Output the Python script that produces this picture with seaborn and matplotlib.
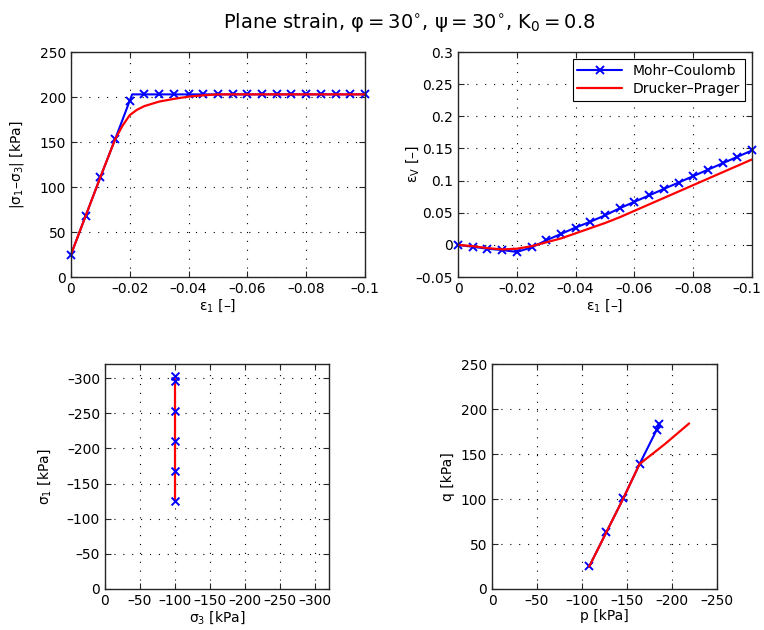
import matplotlib
matplotlib.use("Agg")
import matplotlib.pyplot as plt
import matplotlib.transforms as mtransforms
import seaborn as sns

# --- data ---
# deviator stress vs axial strain
mc_eps1 = [0, -0.005, -0.01, -0.015, -0.02, -0.0208, -0.025, -0.03, -0.035, -0.04,
           -0.045, -0.05, -0.055, -0.06, -0.065, -0.07, -0.075, -0.08, -0.085,
           -0.09, -0.095, -0.1]
mc_dev = [25, 68, 111, 153, 196, 203, 203, 203, 203, 203, 203, 203, 203, 203,
          203, 203, 203, 203, 203, 203, 203, 203]
dp_eps1 = [0, -0.005, -0.01, -0.015, -0.0175, -0.02, -0.0225, -0.025, -0.03,
           -0.035, -0.04, -0.045, -0.05, -0.06, -0.07, -0.08, -0.09, -0.1]
dp_dev = [25, 68, 111, 153, 168, 180, 186, 190, 195, 198, 200.5, 202, 203, 203,
          203, 203, 203, 203]

# volumetric strain vs axial strain
mc_eps1_v = [0, -0.005, -0.01, -0.015, -0.02, -0.025, -0.03, -0.035, -0.04,
             -0.045, -0.05, -0.055, -0.06, -0.065, -0.07, -0.075, -0.08, -0.085,
             -0.09, -0.095, -0.1]
mc_epsv = [0, -0.003, -0.006, -0.008, -0.011, -0.004, 0.007, 0.017, 0.027, 0.036,
           0.046, 0.057, 0.067, 0.077, 0.087, 0.097, 0.107, 0.117, 0.127, 0.137,
           0.147]
dp_eps1_v = [0, -0.005, -0.01, -0.015, -0.02, -0.025, -0.03, -0.035, -0.04,
             -0.045, -0.05, -0.055, -0.06, -0.07, -0.08, -0.09, -0.1]
dp_epsv = [0, -0.002, -0.005, -0.007, -0.006, -0.002, 0.004, 0.010, 0.018, 0.026,
           0.034, 0.043, 0.053, 0.073, 0.093, 0.113, 0.133]

# principal stresses
mc_sig3 = [-100, -100, -100, -100, -100, -100]
mc_sig1 = [-125, -168, -211, -253, -296, -303]
dp_sig3 = [-100, -100]
dp_sig1 = [-125, -303]

# p-q path
mc_p = [-108, -127, -146, -164, -183, -186]
mc_q = [25, 63, 101, 139, 177, 183]
dp_p = [-108, -127, -146, -164, -192, -219]
dp_q = [25, 63, 101, 139, 161, 184]

M = '\u2013'  # matlab-ish minus in tick labels
eps_ticks = [0, -0.02, -0.04, -0.06, -0.08, -0.1]
eps_ticklabels = ['0', M + '0.02', M + '0.04', M + '0.06', M + '0.08', M + '0.1']
dev_ticks = [0, 50, 100, 150, 200, 250]
epsv_ticks = [-0.05, 0, 0.05, 0.1, 0.15, 0.2, 0.25, 0.3]
epsv_ticklabels = [M + '0.05', '0', '0.05', '0.1', '0.15', '0.2', '0.25', '0.3']
sig_ticks = [0, -50, -100, -150, -200, -250, -300]
sig_ticklabels = ['0', M + '50', M + '100', M + '150', M + '200', M + '250', M + '300']
p_ticks = [0, -50, -100, -150, -200, -250]
p_ticklabels = ['0', M + '50', M + '100', M + '150', M + '200', M + '250']
q_ticks = [0, 50, 100, 150, 200, 250]

MC_COLOR = (0, 0, 1)
DP_COLOR = (1, 0, 0)

sns.set_style('ticks')
plt.rcParams.update({
    'font.family': ['DejaVu Sans'],
    'font.size': 10,
    'text.color': 'black',
    'axes.labelcolor': 'black',
    'axes.edgecolor': '#262626',
    'axes.linewidth': 1.0,
    'xtick.direction': 'in',
    'ytick.direction': 'in',
    'xtick.top': True,
    'ytick.right': True,
    'xtick.major.size': 4,
    'ytick.major.size': 4,
    'xtick.color': '#262626',
    'ytick.color': '#262626',
    'xtick.labelcolor': 'black',
    'ytick.labelcolor': 'black',
    'xtick.labelsize': 10,
    'ytick.labelsize': 10,
    'axes.labelsize': 10,
    'mathtext.default': 'regular',
})

fig = plt.figure(figsize=(7.64, 6.30), dpi=100)
ax1 = fig.add_axes([0.0929, 0.5603, 0.3848, 0.357])
ax2 = fig.add_axes([0.5995, 0.5603, 0.3848, 0.357])
ax3 = fig.add_axes([0.1374, 0.0651, 0.2932, 0.357])
ax4 = fig.add_axes([0.6440, 0.0651, 0.2945, 0.357])


def style_grid(ax):
    ax.grid(True, color='black', linestyle=(0, (1, 7)), linewidth=0.8)
    ax.set_axisbelow(True)


mc_kw = dict(color=MC_COLOR, linewidth=1.5, marker='x', markersize=5.5,
             markeredgewidth=1.4, markeredgecolor=MC_COLOR,
             sort=False, estimator=None, clip_on=False)
dp_kw = dict(color=DP_COLOR, linewidth=1.6, sort=False, estimator=None)

# top-left: deviator stress
sns.lineplot(x=mc_eps1, y=mc_dev, ax=ax1,
             markevery=[i for i in range(len(mc_eps1)) if i != 5], **mc_kw)
sns.lineplot(x=dp_eps1, y=dp_dev, ax=ax1, **dp_kw)
ax1.set_xlim(0, -0.1)
ax1.set_ylim(0, 250)
ax1.set_xticks(eps_ticks, eps_ticklabels)
ax1.set_yticks(dev_ticks)
ax1.set_xlabel('$\\varepsilon_1$ [\u2013]', labelpad=1)
ax1.set_ylabel('|$\\sigma_1$\u2013$\\sigma_3$| [kPa]')
ax1.yaxis.set_label_coords(-0.153, 0.5)
style_grid(ax1)

# top-right: volumetric strain
sns.lineplot(x=mc_eps1_v, y=mc_epsv, ax=ax2, label='Mohr\u2013Coulomb', **mc_kw)
sns.lineplot(x=dp_eps1_v, y=dp_epsv, ax=ax2, label='Drucker\u2013Prager', **dp_kw)
ax2.set_xlim(0, -0.1)
ax2.set_ylim(-0.05, 0.3)
ax2.set_xticks(eps_ticks, eps_ticklabels)
ax2.set_yticks(epsv_ticks, epsv_ticklabels)
ax2.set_xlabel('$\\varepsilon_1$ [\u2013]', labelpad=1)
ax2.set_ylabel('$\\varepsilon_V$ [\u2013]')
ax2.yaxis.set_label_coords(-0.126, 0.5)
style_grid(ax2)
leg = ax2.legend(loc='upper right', fontsize=10, frameon=True, fancybox=False,
                 framealpha=1, edgecolor='black', borderpad=0.35, handlelength=3.2,
                 labelspacing=0.3, borderaxespad=0.5)
leg.get_frame().set_linewidth(0.8)
# keep the last tick label inside the figure edge
last = ax2.get_xticklabels()[-1]
last.set_transform(last.get_transform()
                   + mtransforms.ScaledTranslation(-4 / 72, 0, fig.dpi_scale_trans))

# bottom-left: principal stresses
sns.lineplot(x=dp_sig3, y=dp_sig1, ax=ax3, **dp_kw)
sns.scatterplot(x=mc_sig3, y=mc_sig1, ax=ax3, color=MC_COLOR, marker='x', s=32,
                linewidth=1.4, zorder=3)
ax3.set_xlim(0, -320)
ax3.set_ylim(0, -320)
ax3.set_xticks(sig_ticks, sig_ticklabels)
ax3.set_yticks(sig_ticks, sig_ticklabels)
ax3.set_xlabel('$\\sigma_3$ [kPa]', labelpad=1)
ax3.set_ylabel('$\\sigma_1$ [kPa]')
ax3.yaxis.set_label_coords(-0.232, 0.5)
style_grid(ax3)

# bottom-right: p-q
sns.lineplot(x=mc_p, y=mc_q, ax=ax4, **mc_kw)
sns.lineplot(x=dp_p, y=dp_q, ax=ax4, **dp_kw)
ax4.set_xlim(0, -250)
ax4.set_ylim(0, 250)
ax4.set_xticks(p_ticks, p_ticklabels)
ax4.set_yticks(q_ticks)
ax4.set_xlabel('p [kPa]', labelpad=1)
ax4.set_ylabel('q [kPa]')
ax4.yaxis.set_label_coords(-0.164, 0.5)
style_grid(ax4)

for ax in (ax1, ax2, ax3, ax4):
    for s in ax.spines.values():
        s.set_visible(True)

fig.text(0.535, 0.965,
         'Plane strain, \u03c6\u2009=\u200930$^{\\circ}$, \u03c8\u2009=\u200930$^{\\circ}$, '
         'K$_0$\u2009=\u20090.8',
         ha='center', va='center', fontsize=14)

fig.savefig('out.png', dpi=100)
